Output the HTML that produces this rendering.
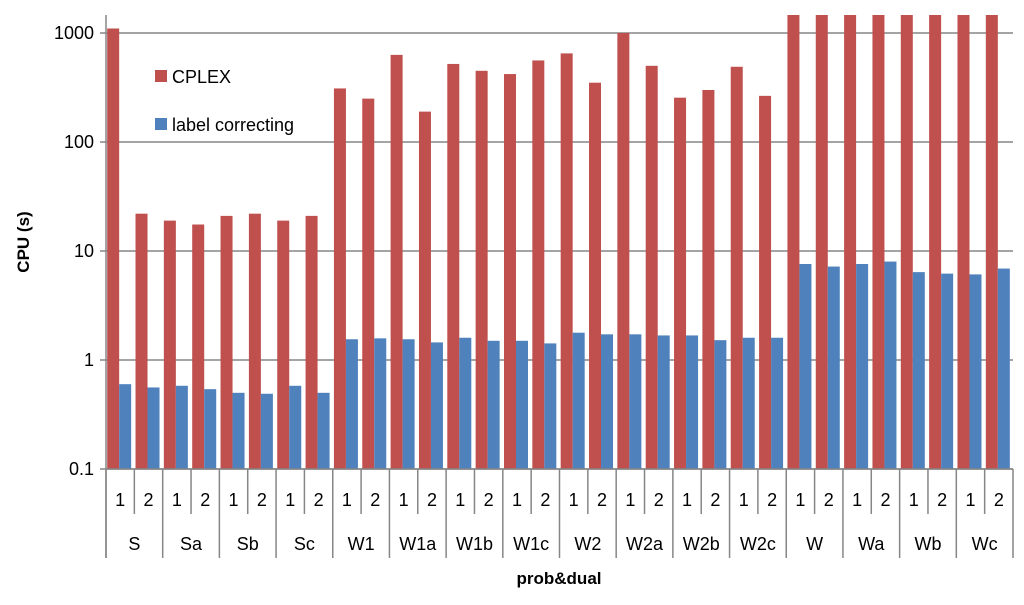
<!DOCTYPE html>
<html><head><meta charset="utf-8"><style>
body{margin:0;background:#fff}
svg text{font-family:"Liberation Sans",sans-serif;fill:#000}
</style></head><body>
<svg id="c" width="1024" height="600" xmlns="http://www.w3.org/2000/svg"></svg>
<script>
const groups=["S","Sa","Sb","Sc","W1","W1a","W1b","W1c","W2","W2a","W2b","W2c","W","Wa","Wb","Wc"];
const subs=["1","2"];
const cplex=[1100,22,19,17.5,21,22,19,21,310,250,630,190,520,450,420,560,650,350,1000,500,255,300,490,265,5000,5000,5000,5000,5000,5000,5000,5000];
const labelCorr=[0.6,0.56,0.58,0.54,0.5,0.49,0.58,0.5,1.55,1.58,1.55,1.45,1.6,1.5,1.5,1.42,1.78,1.72,1.72,1.68,1.68,1.52,1.6,1.6,7.6,7.2,7.6,8.0,6.4,6.2,6.1,6.9];
const yTicks=[0.1,1,10,100,1000];
const yTickLabels=["0.1","1","10","100","1000"];
const svg=document.getElementById('c');const NS="http://www.w3.org/2000/svg";
const L=106,R=1013,T=15,B=469;
function y(v){const yy=B-(Math.log10(v)+1)*109;return Math.max(T,yy);}
const n=groups.length*subs.length,cw=(R-L)/n;
function x(i){return L+i*cw;}
function el(t,a,txt){const e=document.createElementNS(NS,t);for(const k in a)e.setAttribute(k,a[k]);if(txt!==undefined)e.textContent=txt;svg.appendChild(e);return e;}
yTicks.forEach((t,i)=>{
 const g=el('line',{x1:100,x2:R,y1:y(t),y2:y(t),stroke:'#868686','stroke-width':1.5});
 
 
 const lb=el('text',{x:94,y:y(t)+6,'text-anchor':'end','font-size':18},yTickLabels[i]);
 
 
});
const bw=12;
for(let i=0;i<n;i++){
 const cx=x(i)+cw/2-1;
 const r=el('rect',{x:cx-bw,y:y(cplex[i]),width:bw,height:B-y(cplex[i]),fill:'#c0504d'});
 
 
 const b=el('rect',{x:cx,y:y(labelCorr[i]),width:bw,height:B-y(labelCorr[i]),fill:'#4f81bd'});
 
 
 const s=el('text',{x:x(i)+cw/2,y:506,'text-anchor':'middle','font-size':18},subs[i%2]);
 
 
 if(i%2==1){const d=el('line',{x1:x(i),x2:x(i),y1:B,y2:514,stroke:'#868686','stroke-width':1.5});}
}
groups.forEach((g,j)=>{
 const d=el('line',{x1:x(2*j),x2:x(2*j),y1:B,y2:558,stroke:'#868686','stroke-width':1.5});
 
 
 const t=el('text',{x:x(2*j)+cw,y:550,'text-anchor':'middle','font-size':18},g);
 
 
});
const e1=el('line',{x1:R,x2:R,y1:B,y2:558,stroke:'#868686','stroke-width':1.5});


const ax=el('line',{x1:L,x2:L,y1:T,y2:558,stroke:'#868686','stroke-width':1.5});


const xa=el('line',{x1:L,x2:R,y1:B,y2:B,stroke:'#868686','stroke-width':1.5});


const xt=el('text',{x:559,y:584,'text-anchor':'middle','font-size':17,'font-weight':'bold'},'prob&dual');


const yt=el('text',{x:0,y:0,'text-anchor':'middle','font-size':17,'font-weight':'bold',transform:'translate(29,242) rotate(-90)'},'CPU (s)');


const l1=el('rect',{x:155,y:70,width:12,height:12,fill:'#c0504d'});


const t1=el('text',{x:172,y:83,'font-size':18},'CPLEX');


const l2=el('rect',{x:155,y:118,width:12,height:12,fill:'#4f81bd'});


const t2=el('text',{x:172,y:131,'font-size':18},'label correcting');


</script>
</body></html>
